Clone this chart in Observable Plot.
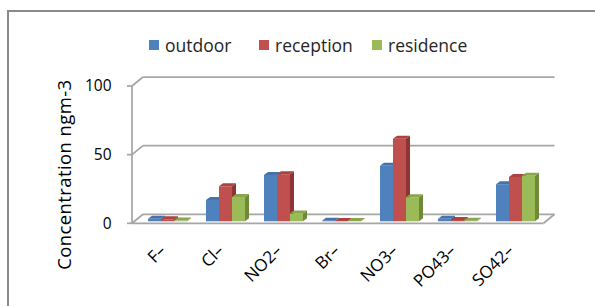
<!DOCTYPE html>
<html>
<head>
<meta charset="utf-8">
<script src="https://cdn.jsdelivr.net/npm/d3@7"></script>
<script src="https://cdn.jsdelivr.net/npm/@observablehq/plot@0.6"></script>
<style>
  html, body { margin: 0; padding: 0; background: #fff; }
  body { width: 595px; height: 306px; overflow: hidden; position: relative; font-family: "Open Sans", sans-serif; }
  #frame { position: absolute; left: 7px; top: 10px; width: 640px; height: 340px; border: 2px solid #8a8a8a; box-sizing: border-box; }
  #chart { position: absolute; left: 0; top: 0; }
  #overlay { position: absolute; left: 0; top: 0; }
</style>
</head>
<body>
<div id="frame"></div>
<div id="chart"></div>
<svg id="overlay" width="595" height="306"></svg>
<script>
// ---- data ----
const categories = ["F–", "Cl–", "NO2–", "Br–", "NO3–", "PO43–", "SO42–"];
const seriesNames = ["outdoor", "reception", "residence"];
const outdoor   = [1.8, 15.5, 33.8, 0.4, 40.4, 1.8, 27.0];
const reception = [1.5, 25.5, 34.3, 0.3, 60.1, 1.0, 32.3];
const residence = [0.5, 17.7,  5.6, 0.2, 17.5, 0.4, 33.1];
const yTicks = [0, 50, 100];
const yTitle = "Concentration ngm-3";
const colors     = ["#4f81bd", "#c0504d", "#9bbb59"];
const topColors  = ["#4572ab", "#aa4341", "#88a64a"];
const sideColors = ["#375e8f", "#8c3533", "#6e8a38"];

const seriesValues = [outdoor, reception, residence];
const rows = categories.flatMap((c, i) =>
  seriesValues.map((arr, s) => ({cat: c, si: s, series: seriesNames[s], value: arr[i]})));

// 3D geometry offsets (pixels)
const BX = 11, BY = -9;      // back wall offset
const BDX = 4, BDY = -2;     // bar front-face offset inside the floor
const DD = 4, DE = 3;        // bar depth
const GRID = "#a6a6a6";

function chart3d(index, scales, values, dim) {
  const {x, y} = scales;
  const L = dim.marginLeft, R = dim.width - dim.marginRight;
  const g = d3.create("svg:g").attr("fill", "none").attr("stroke", GRID).attr("stroke-width", 1.75);
  const y0 = y(0);
  for (const t of yTicks) {
    const yy = y(t);
    g.append("line").attr("x1", L + BX).attr("x2", R + BX).attr("y1", yy + BY).attr("y2", yy + BY);
    g.append("line").attr("x1", L).attr("y1", yy).attr("x2", L + BX).attr("y2", yy + BY);
    g.append("line").attr("x1", L - 5).attr("y1", yy).attr("x2", L).attr("y2", yy);
  }
  g.append("line").attr("x1", L).attr("x2", R).attr("y1", y0).attr("y2", y0);
  g.append("line").attr("x1", R).attr("y1", y0).attr("x2", R + BX).attr("y2", y0 + BY);
  g.append("line").attr("x1", L).attr("x2", L).attr("y1", y(yTicks[yTicks.length - 1])).attr("y2", y0);

  const bw = x.bandwidth() / seriesNames.length;
  const bars = g.append("g").attr("stroke", "none");
  for (const d of rows) {
    const x0 = x(d.cat) + d.si * bw + BDX;
    const x1 = x0 + bw;
    const yt = y(d.value) + BDY;
    const yb = y0 + BDY;
    bars.append("polygon")
      .attr("points", [[x1, yt], [x1 + DD, yt - DE], [x1 + DD, yb - DE], [x1, yb]].join(" "))
      .attr("fill", sideColors[d.si]);
    bars.append("rect").attr("x", x0).attr("y", yt).attr("width", bw).attr("height", Math.max(0, yb - yt))
      .attr("fill", colors[d.si]);
    bars.append("polygon")
      .attr("points", [[x0, yt], [x1, yt], [x1 + DD, yt - DE], [x0 + DD, yt - DE]].join(" "))
      .attr("fill", topColors[d.si]);
  }
  return g.node();
}

const plot = Plot.plot({
  width: 595,
  height: 306,
  marginLeft: 132,
  marginRight: 51.5,
  marginTop: 86,
  marginBottom: 82.7,
  style: {fontFamily: "'Open Sans', sans-serif", fontSize: "15.5px", color: "#000", background: "transparent", overflow: "visible"},
  x: {type: "band", domain: categories, paddingInner: 0.334, paddingOuter: 0.17},
  y: {domain: [0, 100]},
  marks: [
    chart3d,
    Plot.axisX({tickRotate: -45, tickSize: 0, tickPadding: 24, dx: -1, fontSize: 17, label: null, fill: "#000"}),
    Plot.axisY({ticks: yTicks, tickSize: 0, tickPadding: 21, label: null, fill: "#000"}),
    Plot.text([yTitle], {text: d => d, frameAnchor: "left", rotate: -90, dx: -67, dy: 19.5, fontSize: 18.5, textAnchor: "middle", fill: "#000"})
  ]
});
document.getElementById("chart").appendChild(plot);
d3.select(plot).selectAll("text").filter(function() { return this.textContent === yTitle; }).style("letter-spacing", "0.4px");

// ---- legend ----
const ov = d3.select("#overlay");
const legendX = [149, 259, 372];
seriesNames.forEach((name, i) => {
  ov.append("rect").attr("x", legendX[i]).attr("y", 40).attr("width", 10).attr("height", 10).attr("fill", colors[i]);
  ov.append("text").attr("x", legendX[i] + 16).attr("y", 51.7).attr("font-size", 17.5)
    .attr("font-family", "'Open Sans', sans-serif").attr("fill", "#262626").text(name);
});
</script>
</body>
</html>
